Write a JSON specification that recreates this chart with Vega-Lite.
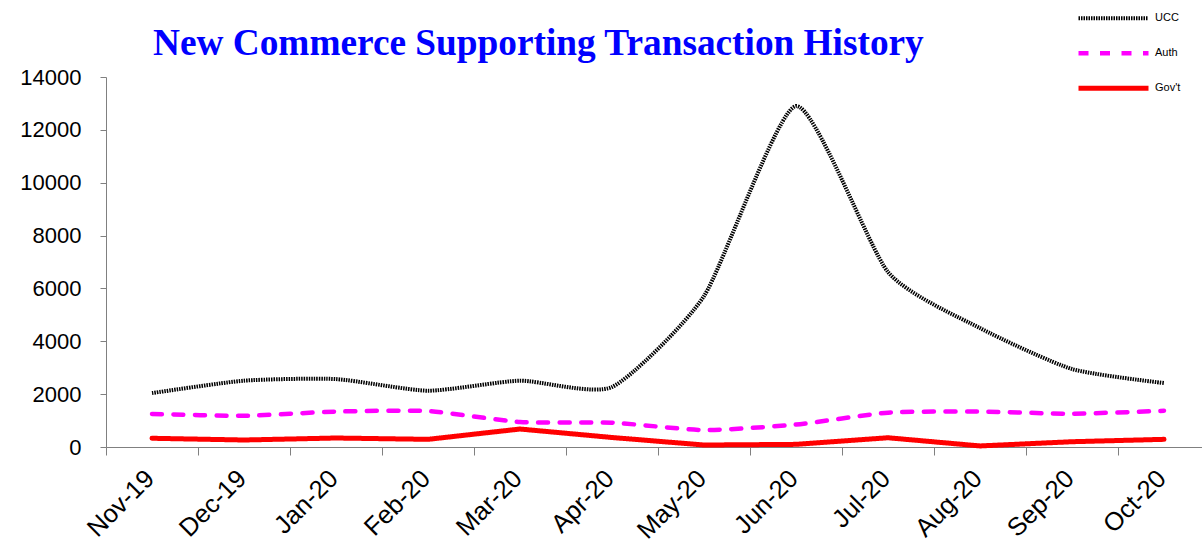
{
  "$schema": "https://vega.github.io/schema/vega-lite/v6.json",
  "autosize": {"type": "none"},
  "width": 1104,
  "height": 370,
  "padding": {"left": 106, "top": 77, "right": 0, "bottom": 95},
  "background": "white",
  "title": {
    "text": "New Commerce Supporting Transaction History",
    "anchor": "start",
    "frame": "group",
    "dx": 47,
    "dy": 91,
    "offset": 0,
    "baseline": "alphabetic",
    "font": "Liberation Serif",
    "fontSize": 37.3,
    "fontWeight": "bold",
    "color": "#0000FF"
  },
  "config": {
    "view": {"stroke": null},
    "axis": {
      "domainColor": "#808080",
      "tickColor": "#808080",
      "labelFont": "Liberation Sans",
      "labelFontSize": 22,
      "labelColor": "black",
      "grid": false,
      "title": null
    }
  },
  "data": {
    "values": [
      {"month": "Nov-19", "series": "UCC", "value": 2040},
      {"month": "Dec-19", "series": "UCC", "value": 2510},
      {"month": "Jan-20", "series": "UCC", "value": 2570},
      {"month": "Feb-20", "series": "UCC", "value": 2130},
      {"month": "Mar-20", "series": "UCC", "value": 2510},
      {"month": "Apr-20", "series": "UCC", "value": 2270},
      {"month": "May-20", "series": "UCC", "value": 5710},
      {"month": "Jun-20", "series": "UCC", "value": 12900},
      {"month": "Jul-20", "series": "UCC", "value": 6620},
      {"month": "Aug-20", "series": "UCC", "value": 4500},
      {"month": "Sep-20", "series": "UCC", "value": 2950},
      {"month": "Oct-20", "series": "UCC", "value": 2420},
      {"month": "Nov-19", "series": "Auth", "value": 1250},
      {"month": "Dec-19", "series": "Auth", "value": 1180},
      {"month": "Jan-20", "series": "Auth", "value": 1340},
      {"month": "Feb-20", "series": "Auth", "value": 1360},
      {"month": "Mar-20", "series": "Auth", "value": 945},
      {"month": "Apr-20", "series": "Auth", "value": 920},
      {"month": "May-20", "series": "Auth", "value": 640},
      {"month": "Jun-20", "series": "Auth", "value": 850},
      {"month": "Jul-20", "series": "Auth", "value": 1300},
      {"month": "Aug-20", "series": "Auth", "value": 1340},
      {"month": "Sep-20", "series": "Auth", "value": 1260},
      {"month": "Oct-20", "series": "Auth", "value": 1370},
      {"month": "Nov-19", "series": "Gov't", "value": 330},
      {"month": "Dec-19", "series": "Gov't", "value": 265},
      {"month": "Jan-20", "series": "Gov't", "value": 340},
      {"month": "Feb-20", "series": "Gov't", "value": 290},
      {"month": "Mar-20", "series": "Gov't", "value": 680},
      {"month": "Apr-20", "series": "Gov't", "value": 360},
      {"month": "May-20", "series": "Gov't", "value": 75},
      {"month": "Jun-20", "series": "Gov't", "value": 100},
      {"month": "Jul-20", "series": "Gov't", "value": 350},
      {"month": "Aug-20", "series": "Gov't", "value": 40},
      {"month": "Sep-20", "series": "Gov't", "value": 200},
      {"month": "Oct-20", "series": "Gov't", "value": 290}
    ]
  },
  "encoding": {
    "x": {
      "field": "month",
      "type": "nominal",
      "sort": null,
      "bandPosition": 0.5,
      "scale": {"type": "band", "paddingInner": 0, "paddingOuter": 0},
      "axis": {
        "bandPosition": 0,
        "labelOffset": -2,
        "labelAngle": -45,
        "labelAlign": "right",
        "labelBaseline": "middle",
        "labelPadding": 19,
        "labelFontSize": 25.5,
        "tickSize": 8
      }
    },
    "y": {
      "field": "value",
      "type": "quantitative",
      "scale": {"domain": [0, 14000]},
      "axis": {"values": [0, 2000, 4000, 6000, 8000, 10000, 12000, 14000], "tickSize": 6, "labelPadding": 19, "format": "d"}
    },
    "color": {
      "field": "series",
      "type": "nominal",
      "scale": {"domain": ["UCC", "Auth", "Gov't"], "range": ["#000000", "#FF00FF", "#FF0000"]},
      "legend": {
        "orient": "none",
        "legendX": 970,
        "legendY": -76,
        "title": null,
        "symbolType": "stroke",
        "symbolSize": 4900,
        "labelFont": "Liberation Sans",
        "labelFontSize": 11,
        "labelOffset": 4,
        "clipHeight": 34.5,
        "rowPadding": 0
      }
    },
    "strokeDash": {
      "field": "series",
      "type": "nominal",
      "scale": {"domain": ["UCC", "Auth", "Gov't"], "range": [[1.5, 1], [10, 11.5], [1, 0]]}
    },
    "strokeWidth": {
      "field": "series",
      "type": "nominal",
      "scale": {"domain": ["UCC", "Auth", "Gov't"], "range": [4, 5, 5]}
    }
  },
  "layer": [
    {"transform": [{"filter": "datum.series === 'UCC'"}], "mark": {"type": "line", "interpolate": "cardinal", "tension": 0.4, "strokeCap": "butt"}},
    {"transform": [{"filter": "datum.series === 'Auth'"}], "mark": {"type": "line", "interpolate": "cardinal", "tension": 0.4, "strokeCap": "round"}},
    {"transform": [{"filter": "datum.series === \"Gov't\""}], "mark": {"type": "line", "strokeCap": "round"}}
  ]
}
